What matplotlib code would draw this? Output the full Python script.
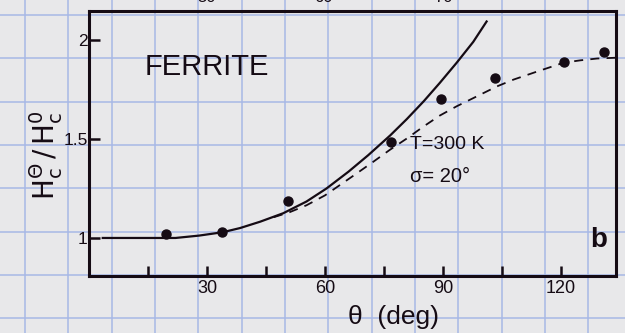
import numpy as np
import matplotlib
matplotlib.use('Agg')
import matplotlib.pyplot as plt

plt.rcParams['font.family'] = ['Liberation Sans', 'DejaVu Sans']
plt.rcParams['mathtext.fontset'] = 'dejavusans'

ink = '#150b14'
paper = '#e8e8ea'
grid_blue = '#a7b8e6'

# measured points
theta_pts = [19.6, 33.8, 50.5, 76.7, 89.4, 103.2, 120.7, 130.9]
hc_pts = [1.02, 1.03, 1.188, 1.486, 1.702, 1.81, 1.887, 1.938]

# calculation without angular spread
theta_calc = [3.5, 22, 28, 34, 38.4, 43.5, 49.4, 55.3, 60.4, 66, 71, 76.6,
              80.8, 85.1, 89.2, 93.5, 97.7, 101.1]
hc_calc = [1.0, 1.0, 1.012, 1.029, 1.05, 1.082, 1.125, 1.184, 1.25, 1.335,
           1.418, 1.518, 1.60, 1.69, 1.783, 1.885, 1.99, 2.093]

# calculation with sigma = 20 deg
theta_sig = [47, 51, 55.3, 60, 64, 68, 72.3, 76.5, 80.8, 85, 89.2, 93.5,
             97.7, 103.7, 108, 113.9, 120.7, 125, 129.2, 134]
hc_sig = [1.105, 1.13, 1.165, 1.215, 1.27, 1.325, 1.385, 1.445, 1.502, 1.562,
          1.618, 1.665, 1.706, 1.765, 1.80, 1.84, 1.885, 1.897, 1.906, 1.91]

fig = plt.figure(figsize=(6.25, 3.33), dpi=100)
fig.patch.set_facecolor(paper)

# graph paper behind the plot
bg = fig.add_axes([0, 0, 1, 1])
bg.set_xlim(0, 625)
bg.set_ylim(333, 0)
bg.axis('off')
for gx in np.arange(25, 640, 43.33):
    bg.axvline(gx, color=grid_blue, lw=1.1)
for gy in np.arange(15, 340, 43.33):
    bg.axhline(gy, color=grid_blue, lw=1.1)

ax = fig.add_axes([0.1424, 0.1712, 0.8432, 0.7958])
ax.patch.set_alpha(0)
ax.plot(theta_calc, hc_calc, color=ink, lw=1.6)
ax.plot(theta_sig, hc_sig, color=ink, lw=1.3, ls=(0, (5, 4)))
ax.plot(theta_pts, hc_pts, 'o', color=ink, ms=6.5)

ax.set_xlim(0, 134)
ax.set_ylim(0.808, 2.146)
for s in ax.spines.values():
    s.set_linewidth(2.2)
    s.set_color(ink)

ax.set_xticks([30, 60, 90, 120])
ax.set_xticks([15, 45, 75, 105], minor=True)
ax.set_yticks([1, 1.5, 2])
ax.set_yticklabels(['1', '1.5', '2'])
ax.tick_params(axis='x', which='both', direction='in', length=7, width=1.8,
               color=ink, labelsize=13, pad=3, labelcolor=ink)
ax.tick_params(axis='y', direction='in', length=8, width=1.8, color=ink,
               labelsize=12.5, pad=1, labelcolor=ink)

ax.text(14.2, 1.864, 'FERRITE', fontsize=21, color=ink, va='center')
ax.text(81.6, 1.47, 'T=300 K', fontsize=14, color=ink, va='center')
ax.text(81.6, 1.308, 'σ= 20°', fontsize=14.5, color=ink, va='center')
ax.text(127.4, 0.99, 'b', fontsize=20, fontweight='bold', color=ink, va='center')

fig.text(394 / 625, 1 - 317 / 333, 'θ  (deg)', fontsize=19, color=ink,
         ha='center', va='center')
fig.text(46 / 625, 1 - 155 / 333, r'$\mathrm{H}_\mathrm{c}^{\Theta}\,/\,\mathrm{H}_\mathrm{c}^{0}$',
         fontsize=20, color=ink, rotation=90, ha='center', va='center')

# labels of the panel above, cut at the top edge
for px, lab in [(207, '50'), (323, '60'), (443, '70')]:
    fig.text(px / 625, 1 + 3 / 333, lab, fontsize=12, color=ink,
             ha='center', va='center')

fig.savefig('out.png', dpi=100, facecolor=paper)
